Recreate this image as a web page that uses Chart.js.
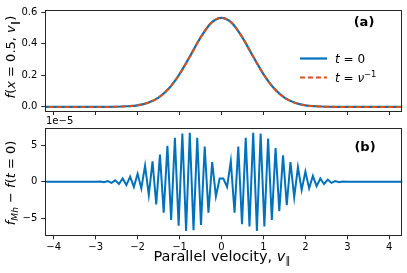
<!DOCTYPE html>
<html>
<head>
<meta charset="utf-8">
<script src="https://cdn.jsdelivr.net/npm/chart.js@4"></script>
<style>
  html, body { margin:0; padding:0; background:#fff; }
  #wrap { position:relative; width:407px; height:273px; }
  #wrap canvas { position:absolute; left:0; top:0; }
</style>
</head>
<body>
<div id="wrap">
  <canvas id="chartA" width="407" height="273"></canvas>
  <canvas id="chartB" width="407" height="273"></canvas>
</div>
<script>
// ── Data ──────────────────────────────────────────────────────────────────────
// (a) distribution at x = 0.5
const VPAR_A = [-4.5, -3.0, -2.75, -2.5, -2.25, -2.0, -1.75, -1.5, -1.25, -1.0, -0.75, -0.5, -0.25,
                0, 0.25, 0.5, 0.75, 1.0, 1.25, 1.5, 1.75, 2.0, 2.25, 2.5, 2.75, 3.0, 4.5];
const F_T0   = [0, 0, 0, 0.001, 0.004, 0.010, 0.026, 0.059, 0.118, 0.208, 0.321, 0.439, 0.531,
                0.564, 0.531, 0.439, 0.321, 0.208, 0.118, 0.059, 0.026, 0.010, 0.004, 0.001, 0, 0, 0];
const F_TNU  = [0, 0, 0, 0.001, 0.004, 0.010, 0.026, 0.059, 0.118, 0.208, 0.321, 0.439, 0.531,
                0.564, 0.531, 0.439, 0.321, 0.208, 0.118, 0.059, 0.026, 0.010, 0.004, 0.001, 0, 0, 0];

// (b) f_Mh - f(t=0), in units of 1e-5
const VPAR_B = [-4.4,
  -2.978, -2.889, -2.800, -2.711, -2.622, -2.533, -2.444, -2.356, -2.267, -2.178, -2.089, -2.000,
  -1.911, -1.822, -1.733, -1.644, -1.556, -1.467, -1.378, -1.289, -1.200, -1.111, -1.022, -0.933,
  -0.844, -0.756, -0.667, -0.578, -0.489, -0.400, -0.311, -0.222, -0.133, -0.044,
  0.044, 0.133, 0.222, 0.311, 0.400, 0.489, 0.578, 0.667, 0.756, 0.844, 0.933, 1.022,
  1.111, 1.200, 1.289, 1.378, 1.467, 1.556, 1.644, 1.733, 1.822, 1.911, 2.000, 2.089,
  2.178, 2.267, 2.356, 2.444, 2.533, 2.622, 2.711, 2.800, 2.889, 2.978,
  4.4];
const DF_B = [0,
  0, 0.05, -0.05, 0.1, -0.15, 0.2, -0.3, 0.45, -0.45, 0.7, -0.7, 1.1,
  -0.9, 2.2, -1.8, 2.8, -3.1, 3.7, -4.2, 4.9, -5.2, 6.0, -6.0, 6.6,
  -6.7, 6.7, -6.6, 6.0, -5.9, 4.8, -4.2, 2.7, -2.0, 0.45,
  0.45, -0.7, 2.8, -4.2, 4.8, -5.8, 6.0, -6.1, 6.7, -6.7, 6.6, -6.1,
  5.9, -5.2, 4.6, -4.0, 3.6, -3.2, 2.7, -2.1, 2.0, -1.1, 1.4, -0.9,
  0.8, -0.6, 0.45, -0.3, 0.3, -0.15, 0.1, -0.05, 0.03, 0,
  0];

const XTICKS   = [-4, -3, -2, -1, 0, 1, 2, 3, 4];
const YTICKS_A = [0, 0.2, 0.4, 0.6];
const YTICKS_B = [-5, 0, 5];

const blue = '#0072BD', orange = '#D95319', ink = '#000', frame = '#262626';
const FONT = '"DejaVu Sans", sans-serif';

// ── Helpers ───────────────────────────────────────────────────────────────────
const pts = (xs, ys) => xs.map((x, i) => ({x, y: ys[i]}));
const minus = v => (v < 0 ? '\u2212' + (-v) : '' + v);

// segs: [text, italic, shift]  shift: 1 = subscript, -1 = superscript
function segFont(s, size) {
    const sz = s[2] ? size * 0.7 : size;
    return (s[1] ? 'italic ' : '') + sz + 'px ' + FONT;
}
function drawRich(ctx, segs, x, y, size, rot, align) {
    ctx.save();
    ctx.translate(x, y);
    if (rot) ctx.rotate(rot);
    let w = 0;
    segs.forEach(s => { ctx.font = segFont(s, size); w += ctx.measureText(s[0]).width; });
    let cx = align === 'left' ? 0 : -w / 2;
    ctx.fillStyle = ink;
    ctx.textBaseline = 'alphabetic';
    ctx.textAlign = 'left';
    segs.forEach(s => {
        ctx.font = segFont(s, size);
        const dy = s[2] === 1 ? size * 0.22 : s[2] === -1 ? -size * 0.42 : 0;
        ctx.fillText(s[0], cx, dy);
        cx += ctx.measureText(s[0]).width;
    });
    ctx.restore();
}

function boxFrame(chart) {
    const {ctx, chartArea: a} = chart;
    ctx.save();
    ctx.strokeStyle = frame;
    ctx.lineWidth = 1;
    ctx.strokeRect(Math.round(a.left) + 0.5, Math.round(a.top) + 0.5,
                   Math.round(a.right - a.left) - 1, Math.round(a.bottom - a.top));
    ctx.restore();
}

function xScale(showLabels, height) {
    return {
        type:'linear', min:-4.2, max:4.31,
        afterBuildTicks: s => { s.ticks = XTICKS.map(v => ({value:v})); },
        afterFit: s => { s.height = height; },
        grid:{ display:true, drawOnChartArea:false, drawTicks:true, tickLength:4, color:frame },
        border:{ display:false },
        ticks:{ display:showLabels, padding:2, color:ink, font:{family:FONT, size:10},
                maxRotation:0, callback: v => minus(v) }
    };
}
function yScale(min, max, ticks, fmt) {
    return {
        min, max,
        afterBuildTicks: s => { s.ticks = ticks.map(v => ({value:v})); },
        afterFit: s => { s.width = 45.3; },
        grid:{ display:true, drawOnChartArea:false, drawTicks:true, tickLength:4, color:frame },
        border:{ display:false },
        ticks:{ padding:4, color:ink, font:{family:FONT, size:10}, callback: fmt }
    };
}

const common = {
    responsive:false, animation:false, events:[],
    plugins:{ legend:{display:false}, tooltip:{enabled:false} },
    elements:{ point:{radius:0} }
};

// ── (a) Distribution ──────────────────────────────────────────────────────────
new Chart(document.getElementById('chartA'), {
    type:'line',
    data:{ datasets:[
        { data:pts(VPAR_A, F_T0),  borderColor:blue,   borderWidth:2.2, order:2, cubicInterpolationMode:'monotone' },
        { data:pts(VPAR_A, F_TNU), borderColor:orange, borderWidth:2,   order:1, borderDash:[5,3], cubicInterpolationMode:'monotone' }
    ]},
    options:{ ...common,
        layout:{ padding:{ left:0, right:4.7, top:3.3, bottom:0 } },
        scales:{
            x: xScale(false, 162),
            y: yScale(-0.026, 0.614, YTICKS_A, v => v.toFixed(1))
        }
    },
    plugins:[{ id:'decorA', afterDraw(chart) {
        const {ctx} = chart;
        boxFrame(chart);
        drawRich(ctx, [['f',1],['(',0],['x',1],[' = 0.5, ',0],['v',1],['\u2225',0,1],[')',0]],
                 15, 57, 13, -Math.PI / 2);
        // panel tag
        ctx.save();
        ctx.font = 'bold 13px ' + FONT; ctx.fillStyle = ink; ctx.textAlign = 'center';
        ctx.fillText('(a)', 364, 26);
        ctx.restore();
        // legend
        ctx.save();
        ctx.lineWidth = 2.2; ctx.strokeStyle = blue;
        ctx.beginPath(); ctx.moveTo(300, 58.5); ctx.lineTo(327, 58.5); ctx.stroke();
        ctx.lineWidth = 2; ctx.strokeStyle = orange; ctx.setLineDash([5,3]);
        ctx.beginPath(); ctx.moveTo(300, 77.5); ctx.lineTo(327, 77.5); ctx.stroke();
        ctx.restore();
        drawRich(ctx, [['t',1],[' = 0',0]], 335, 63, 12, 0, 'left');
        drawRich(ctx, [['t',1],[' = ',0],['\u03bd',1],['\u22121',0,-1]], 335, 82, 12, 0, 'left');
    }}]
});

// ── (b) Difference ────────────────────────────────────────────────────────────
new Chart(document.getElementById('chartB'), {
    type:'line',
    data:{ datasets:[
        { data:pts(VPAR_B, DF_B), borderColor:blue, borderWidth:2, tension:0 }
    ]},
    options:{ ...common,
        layout:{ padding:{ left:0, right:4.7, top:128.3, bottom:0 } },
        scales:{
            x: xScale(true, 37.7),
            y: yScale(-7.3, 7.3, YTICKS_B, v => minus(v))
        }
    },
    plugins:[{ id:'decorB', afterDraw(chart) {
        const {ctx} = chart;
        boxFrame(chart);
        drawRich(ctx, [['f',1],['Mh',1,1],[' \u2212 ',0],['f',1],['(',0],['t',1],[' = 0)',0]],
                 15, 183, 13, -Math.PI / 2);
        drawRich(ctx, [['Parallel velocity, ',0],['v',1],['\u2225',0,1]], 222, 260.5, 14.5, 0);
        drawRich(ctx, [['1e\u22125',0]], 46, 124, 10, 0, 'left');
        ctx.save();
        ctx.font = 'bold 13px ' + FONT; ctx.fillStyle = ink; ctx.textAlign = 'center';
        ctx.fillText('(b)', 365, 151);
        ctx.restore();
    }}]
});
</script>
</body>
</html>
